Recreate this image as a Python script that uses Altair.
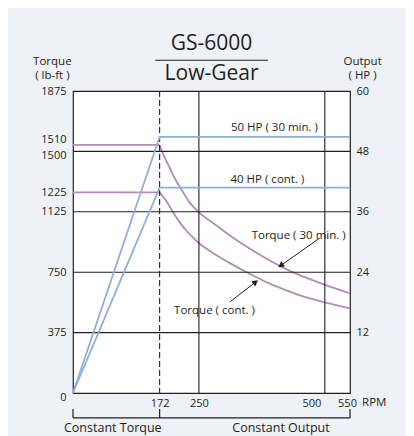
import altair as alt
import pandas as pd

# ---------------- data ----------------
rpm_ticks = [172, 250, 500, 550]
torque_tick_values = [0, 375, 750, 1125, 1246, 1500, 1540, 1875]
torque_tick_labels = ["0", "375", "750", "1125", "1225", "1500", "1510", "1875"]
hp_ticks = [12, 24, 36, 48, 60]
grid_torque = [375, 750, 1125, 1500]
grid_rpm = [250, 500]
base_rpm = [172]

# torque curves (lb-ft)
t30_rpm = [0, 172, 177, 191, 204, 218, 231, 248, 282, 315, 349, 382, 416, 449, 483, 516, 550]
t30_val = [1540, 1540, 1498, 1405, 1322, 1250, 1185, 1128, 1046, 970, 900, 838, 780, 733, 691, 654, 619]
tc_rpm = [0, 172, 184, 198, 211, 224, 238, 248, 282, 315, 349, 382, 416, 449, 483, 516, 550]
tc_val = [1246, 1246, 1198, 1126, 1064, 1012, 966, 936, 862, 800, 743, 691, 646, 608, 577, 551, 526]

# output lines (HP)
hp30_rpm = [0, 172, 550]
hp30_val = [0, 50.9, 50.9]
hpc_rpm = [0, 172, 550]
hpc_val = [0, 40.8, 40.8]

# annotation texts (anchored in data units)
hp_text = ["50 HP ( 30 min. )", "40 HP ( cont. )"]
hp_text_rpm = [400, 386]
hp_text_hp = [52.7, 42.3]

tq_text = ["Torque ( 30 min. )", "Torque ( cont. )"]
tq_text_rpm = [448, 281]
tq_text_val = [975, 509]

arrow_tail_rpm = [490, 312]
arrow_tail_val = [962, 567]
arrow_head_rpm = [414, 361]
arrow_head_val = [795, 685]
arrow_angle = [235, 53]

title_main = "GS-6000"
title_sub = "Low-Gear"
left_unit = ["Torque", "( lb-ft )"]
right_unit = ["Output", "( HP )"]
zone_labels = ["Constant Torque", "Constant Output"]
zone_label_rpm = [79, 413]
zone_edges = [0, 172, 550]

# ---------------- styling ----------------
PINK = "#B48AB8"
BLUE = "#8CB0D8"
INK = "#231F20"
FONT = "Open Sans"
W, H = 277, 302

x_scale = alt.Scale(domain=[0, 550], nice=False, zero=False)
yT = alt.Scale(domain=[0, 1875], nice=False)
yH = alt.Scale(domain=[0, 60], nice=False)

label_expr = "".join(
    f"datum.value == {v} ? '{l}' : " for v, l in zip(torque_tick_values, torque_tick_labels)
) + "datum.label"

left_axis = alt.Axis(
    values=torque_tick_values, labelExpr=label_expr, title=None, orient="left",
    labelPadding=7, labelOverlap=False,
    labelOffset={"condition": [
        {"test": "datum.value == 1540", "value": -5},
        {"test": "datum.value == 1500", "value": 4},
        {"test": "datum.value == 0", "value": 4}], "value": 0},
)
x_axis = alt.Axis(values=rpm_ticks, title=None, labelPadding=4, labelOverlap=False,
                  labelAlign={"condition": {"test": "datum.value == 500", "value": "right"},
                              "value": "center"},
                  labelOffset={"condition": [
                      {"test": "datum.value == 500", "value": -4},
                      {"test": "datum.value == 550", "value": -3}], "value": 0})
right_axis = alt.Axis(values=hp_ticks, title=None, orient="right", labelPadding=6)


def X(field="rpm"):
    return alt.X(f"{field}:Q", scale=x_scale, axis=x_axis, title=None)


def YT(field="torque"):
    return alt.Y(f"{field}:Q", scale=yT, axis=left_axis, title=None)


def YH(field="hp"):
    return alt.Y(f"{field}:Q", scale=yH, axis=right_axis, title=None)


# grid lines
gy = alt.Chart(pd.DataFrame({"torque": grid_torque})).mark_rule(
    color=INK, strokeWidth=1.1).encode(y=YT())
gx = alt.Chart(pd.DataFrame({"rpm": grid_rpm})).mark_rule(
    color=INK, strokeWidth=1.1).encode(x=X())
dash = alt.Chart(pd.DataFrame({"rpm": base_rpm})).mark_rule(
    color=INK, strokeWidth=1.1, strokeDash=[6, 3]).encode(x=X())

# flat part (0-172 rpm) and falling part (172-550 rpm) as separate pieces
curves = pd.concat([
    pd.DataFrame({"rpm": t30_rpm[:2], "torque": t30_val[:2], "series": "30a"}),
    pd.DataFrame({"rpm": t30_rpm[1:], "torque": t30_val[1:], "series": "30b"}),
    pd.DataFrame({"rpm": tc_rpm[:2], "torque": tc_val[:2], "series": "ca"}),
    pd.DataFrame({"rpm": tc_rpm[1:], "torque": tc_val[1:], "series": "cb"}),
])
pink = alt.Chart(curves).mark_line(color=PINK, strokeWidth=1.8, interpolate="monotone").encode(
    x=X(), y=YT(), detail="series:N")

tq_labels = alt.Chart(pd.DataFrame({"rpm": tq_text_rpm, "torque": tq_text_val, "t": tq_text})).mark_text(
    font=FONT, fontSize=11.5, color=INK).encode(x=X(), y=YT(), text="t:N")

arrows_df = pd.DataFrame({"rpm": arrow_tail_rpm, "torque": arrow_tail_val,
                          "rpm2": arrow_head_rpm, "torque2": arrow_head_val,
                          "angle": arrow_angle})
arrow_lines = alt.Chart(arrows_df).mark_rule(color=INK, strokeWidth=1).encode(
    x=X(), y=YT(), x2="rpm2:Q", y2="torque2:Q")
arrow_heads = alt.Chart(arrows_df).mark_point(shape="triangle", filled=True, color=INK,
                                              size=45, opacity=1).encode(
    x=X("rpm2"), y=YT("torque2"), angle=alt.Angle("angle:Q", scale=None))

# title block
title_df = pd.DataFrame({"rpm": [275, 275], "torque": [2167, 1981], "t": [title_main, title_sub]})
title_txt = alt.Chart(title_df).mark_text(font=FONT, fontSize=21, color=INK).encode(
    x=X(), y=YT(), text="t:N")
underline = alt.Chart(pd.DataFrame({"rpm": [163], "rpm2": [387], "torque": [2066]})).mark_rule(
    color=INK, strokeWidth=1.2).encode(x=X(), x2="rpm2:Q", y=YT())

units_df = pd.DataFrame({
    "rpm": [-41, -41, 575, 575],
    "torque": [2055, 1968, 2055, 1968],
    "t": left_unit + right_unit,
})
units_txt = alt.Chart(units_df).mark_text(font=FONT, fontSize=11.5, color=INK).encode(
    x=X(), y=YT(), text="t:N")

rpm_unit = alt.Chart(pd.DataFrame({"rpm": [574], "torque": [-62], "t": ["RPM"]})).mark_text(
    font=FONT, fontSize=11.5, color=INK, align="left").encode(x=X(), y=YT(), text="t:N")

# bracket below the axis
bracket_h = alt.Chart(pd.DataFrame({"rpm": [zone_edges[0]], "rpm2": [zone_edges[-1]], "torque": [-155]})).mark_rule(
    color=INK, strokeWidth=1.2).encode(x=X(), x2="rpm2:Q", y=YT())
bracket_v = alt.Chart(pd.DataFrame({"rpm": zone_edges, "torque": [-99] * 3, "torque2": [-155] * 3})).mark_rule(
    color=INK, strokeWidth=1.2).encode(x=X(), y=YT(), y2="torque2:Q")
zones = alt.Chart(pd.DataFrame({"rpm": zone_label_rpm, "torque": [-220, -220], "t": zone_labels})).mark_text(
    font=FONT, fontSize=12.5, color=INK).encode(x=X(), y=YT(), text="t:N")

torque_layer = alt.layer(pink, gy, gx, dash, tq_labels, arrow_lines, arrow_heads,
                         title_txt, underline, units_txt, rpm_unit, bracket_h, bracket_v, zones)

# HP layer
hp_lines_df = pd.concat([
    pd.DataFrame({"rpm": hp30_rpm, "hp": hp30_val, "series": "30"}),
    pd.DataFrame({"rpm": hpc_rpm, "hp": hpc_val, "series": "cont"}),
])
blue = alt.Chart(hp_lines_df).mark_line(color=BLUE, strokeWidth=1.8).encode(
    x=X(), y=YH(), detail="series:N")
hp_labels = alt.Chart(pd.DataFrame({"rpm": hp_text_rpm, "hp": hp_text_hp, "t": hp_text})).mark_text(
    font=FONT, fontSize=11.5, color=INK).encode(x=X(), y=YH(), text="t:N")
hp_layer = alt.layer(blue, hp_labels)

chart = alt.layer(torque_layer, hp_layer).resolve_scale(y="independent").properties(
    width=W, height=H,
    autosize="none",
    padding={"left": 65, "top": 83, "right": 56, "bottom": 43},
).configure(background="#EEF2F7").configure_view(
    fill="white", stroke=INK, strokeWidth=1.2
).configure_axis(
    labelFont=FONT, labelFontSize=11, labelColor=INK, domain=False, ticks=False, grid=False
)

chart.save("out.html", embed_options={"renderer": "svg", "actions": False})
